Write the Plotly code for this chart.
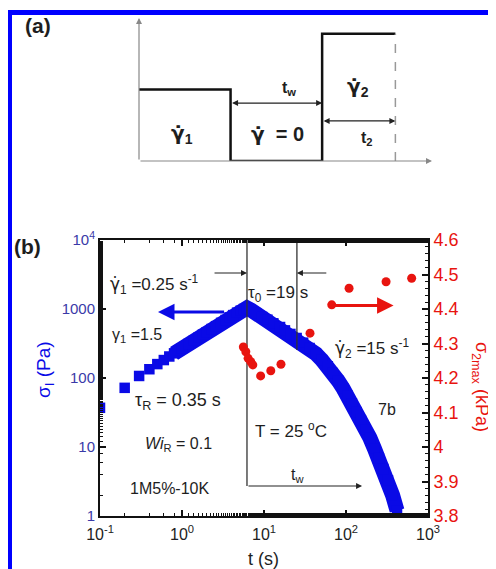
import numpy as np
import plotly.graph_objects as go

W, H = 496, 569
OFF = 8  # the page body adds an 8px margin; positions below are reference pixels
BLUE = "#0a0ae6"
RED = "#e8140f"
TICKBLUE = "#3a3aa8"
TXT = "#1e1e1e"

# ---------------- panel (b) data ----------------
t_stress = [0.1, 0.2, 0.3, 0.4, 0.5, 0.6, 0.7, 0.8, 0.9, 1.0, 1.2, 1.4, 1.6, 1.8, 2.0,
            2.3, 2.6, 3.0, 3.4, 3.8, 4.2, 4.7, 5.2, 5.7, 6.2,
            7.0, 8.0, 9.5, 11, 13, 15.7, 18, 21, 25, 30, 36, 43, 51, 60, 69, 80, 92,
            105, 118, 135, 152, 172, 196, 222, 252, 285, 325, 370, 419]
sigma_I = [37, 72, 107, 134, 159, 182, 205, 228, 249, 270, 311, 350, 388, 425, 461,
           513, 564, 630, 694, 756, 816, 885, 945, 1000, 1035,
           960, 870, 766, 700, 620, 548, 490, 435, 380, 325, 272, 225, 182, 148, 118, 92, 71,
           55, 43, 32, 24.5, 18, 13.5, 9.5, 6.9, 4.8, 3.3, 2.0, 1.2]
band_start = 7  # from here on the squares overlap into a continuous band

t_sigma2 = [5.6, 6.0, 6.4, 6.9, 7.3, 9.1, 12.1, 16.1, 36.4, 67, 109, 308, 632]
sigma_2max = [4.29, 4.276, 4.257, 4.247, 4.238, 4.206, 4.221, 4.240, 4.330, 4.412, 4.460, 4.479, 4.489]

t1 = 6.2
tau0 = 19
t_w_end = 157
y_tw_arrow = 2.72
y_tau_arrow = 3325
y_tau_line_end = 255

x_ticks = [0.1, 1, 10, 100, 1000]
x_ticktext = ["10<sup>-1</sup>", "10<sup>0</sup>", "10<sup>1</sup>", "10<sup>2</sup>", "10<sup>3</sup>"]
y_ticks = [1, 10, 100, 1000, 10000]
y_ticktext = ["1", "10", "100", "1000", "10<sup>4</sup>"]

# ---------------- panel (a) schematic ----------------
sch_t = [0, 1, 1, 2, 2, 2.8]
sch_level = [1, 1, 0, 0, 1.78, 1.78]
sch_t_end = 2.8

GDOT = '<span style="font-family:DejaVu Sans">γ̇</span>'


def pxx(x):
    return (x - OFF) / W


def pyy(y):
    return 1 - (y - OFF) / H


fig = go.Figure()

fig.add_trace(go.Scatter(x=t_stress[band_start:], y=sigma_I[band_start:], mode="lines",
                         line=dict(color=BLUE, width=15), xaxis="x", yaxis="y",
                         hoverinfo="skip", showlegend=False))
fig.add_trace(go.Scatter(x=t_stress, y=sigma_I, mode="markers",
                         marker=dict(symbol="square", size=10.5, color=BLUE),
                         xaxis="x", yaxis="y", showlegend=False))
fig.add_trace(go.Scatter(x=[t1, t1], y=[1e4, y_tw_arrow], mode="lines",
                         line=dict(color="#333", width=1.3), xaxis="x", yaxis="y",
                         showlegend=False, hoverinfo="skip"))
fig.add_trace(go.Scatter(x=[t1 + tau0, t1 + tau0], y=[1e4, y_tau_line_end], mode="lines",
                         line=dict(color="#333", width=1.3), xaxis="x", yaxis="y",
                         showlegend=False, hoverinfo="skip"))
fig.add_trace(go.Scatter(x=t_sigma2, y=sigma_2max, mode="markers",
                         marker=dict(symbol="circle", size=9, color=RED),
                         xaxis="x", yaxis="y2", showlegend=False))

fig.add_trace(go.Scatter(x=sch_t, y=sch_level, mode="lines",
                         line=dict(color="#111", width=2.5), xaxis="x3", yaxis="y3",
                         showlegend=False, hoverinfo="skip"))
fig.add_trace(go.Scatter(x=[sch_t_end, sch_t_end], y=[0, sch_level[-1]], mode="lines",
                         line=dict(color="#999", width=1.5, dash="dash"), xaxis="x3", yaxis="y3",
                         showlegend=False, hoverinfo="skip"))

ann = []
lg = np.log10

ann.append(dict(xref="x", yref="y", axref="x", ayref="y",
                x=lg(0.51), y=lg(905), ax=lg(3.4), ay=lg(905), text="",
                showarrow=True, arrowhead=2, arrowsize=1.1, arrowwidth=3, arrowcolor=BLUE))
ann.append(dict(xref="x", yref="y2", axref="x", ayref="y2",
                x=lg(380), y=4.41, ax=lg(67), ay=4.41, text="",
                showarrow=True, arrowhead=2, arrowsize=1.1, arrowwidth=3, arrowcolor=RED))
ann.append(dict(xref="x", yref="y", axref="x", ayref="y",
                x=lg(t1), y=lg(y_tau_arrow), ax=lg(2.39), ay=lg(y_tau_arrow), text="",
                showarrow=True, arrowhead=2, arrowsize=1, arrowwidth=1.2, arrowcolor="#222"))
ann.append(dict(xref="x", yref="y", axref="x", ayref="y",
                x=lg(t1 + tau0), y=lg(y_tau_arrow), ax=lg(60), ay=lg(y_tau_arrow), text="",
                showarrow=True, arrowhead=2, arrowsize=1, arrowwidth=1.2, arrowcolor="#222"))
ann.append(dict(xref="x", yref="y", axref="x", ayref="y",
                x=lg(t_w_end), y=lg(y_tw_arrow), ax=lg(t1), ay=lg(y_tw_arrow), text="",
                showarrow=True, arrowhead=2, arrowsize=1, arrowwidth=1.2, arrowcolor="#222"))

ann.append(dict(xref="x3", yref="y3", axref="x3", ayref="y3", x=0, y=2.0, ax=0, ay=0,
                text="", showarrow=True, arrowhead=2, arrowwidth=1.2, arrowcolor="#888"))
ann.append(dict(xref="x3", yref="y3", axref="x3", ayref="y3", x=3.2, y=0, ax=0, ay=0,
                text="", showarrow=True, arrowhead=2, arrowwidth=1.2, arrowcolor="#888"))
ann.append(dict(xref="x3", yref="y3", axref="x3", ayref="y3", x=2, y=0.81, ax=1, ay=0.81,
                text="", showarrow=True, arrowhead=2, arrowside="end+start", arrowwidth=1.2,
                arrowcolor="#222"))
ann.append(dict(xref="x3", yref="y3", axref="x3", ayref="y3", x=2.8, y=0.56, ax=2, ay=0.56,
                text="", showarrow=True, arrowhead=2, arrowside="end+start", arrowwidth=1.2,
                arrowcolor="#222"))


def txt(x, y, s, size=16, color=TXT, xanchor="center", yanchor="middle", angle=0, xref="paper",
        yref="paper"):
    if xref == "paper":
        x = pxx(x)
    if yref == "paper":
        y = pyy(y)
    ann.append(dict(xref=xref, yref=yref, x=x, y=y, text=s, showarrow=False,
                    font=dict(size=size, color=color), xanchor=xanchor, yanchor=yanchor,
                    textangle=angle))


txt(38, 26, "<b>(a)</b>", size=21)
txt(27, 246, "<b>(b)</b>", size=21)

txt(-0.26, 0.99, "<b>Rate or stress</b>", size=15, color="#333", angle=-90, xref="x3", yref="y3")
txt(0.47, 0.38, "<b>" + GDOT + "</b><sub><b>1</b></sub>", size=20, xref="x3", yref="y3")
txt(1.51, 0.38, "<b>" + GDOT + "  = 0</b>", size=20, xref="x3", yref="y3")
txt(2.39, 1.03, "<b>" + GDOT + "</b><sub><b>2</b></sub>", size=20, xref="x3", yref="y3")
txt(1.64, 1.02, "<b>t</b><sub><b>w</b></sub>", size=16, xref="x3", yref="y3")
txt(2.49, 0.31, "<b>t</b><sub><b>2</b></sub>", size=16, xref="x3", yref="y3")
txt(-0.12, -0.17, "<b>0</b>", size=16, xref="x3", yref="y3")
txt(1.05, -0.22, "<b>t</b><sub><b>1</b></sub>", size=16, xref="x3", yref="y3")
txt(3.2, -0.22, "<b>t</b>", size=18, xref="x3", yref="y3")

txt(108, 285, GDOT + "<sub>1</sub> =0.25 s<sup>-1</sup>", size=17, xanchor="left")
txt(110, 336, "γ<sub>1</sub> =1.5", size=16, xanchor="left")
txt(133, 401, "τ<sub>R</sub> = 0.35 s", size=18, xanchor="left")
txt(143, 444, "<i>Wi</i><sub>R</sub> = 0.1", size=16, xanchor="left")
txt(128, 488, "1M5%-10K", size=16, xanchor="left")
txt(246, 294, "τ<sub>0</sub> =19 s", size=17, xanchor="left")
txt(333, 348, GDOT + "<sub>2</sub> =15 s<sup>-1</sup>", size=17, xanchor="left")
txt(387, 409, "7b", size=16)
txt(253, 430, "T = 25 <sup>o</sup>C", size=17, xanchor="left")
txt(297, 476, "t<sub>w</sub>", size=16)

txt(263, 559, "t (s)", size=18)
txt(45, 370, "σ<sub>I</sub> (Pa)", size=19, color=BLUE, angle=-90)
txt(481, 387, "σ<sub>2max</sub> (kPa)", size=18, color=RED, angle=90)

axis_common = dict(showline=True, linecolor="#111", linewidth=2, ticks="inside",
                   tickcolor="#111", tickwidth=1.5, ticklen=6, showgrid=False, zeroline=False,
                   automargin=False)

fig.update_layout(
    width=W, height=H,
    autosize=False,
    margin=dict(l=0, r=0, t=0, b=0, pad=0, autoexpand=False),
    paper_bgcolor="white", plot_bgcolor="white",
    font=dict(family="Liberation Sans, Arial, sans-serif", color=TXT),
    showlegend=False,
    xaxis=dict(type="log", range=[-1, 3], domain=[pxx(100), pxx(428)], anchor="y",
               mirror="ticks", tickvals=x_ticks, ticktext=x_ticktext,
               tickfont=dict(size=16, color="#222"), ticklabelstandoff=3,
               minor=dict(ticks="inside", ticklen=3, tickwidth=1, tickcolor="#111", showgrid=False),
               **axis_common),
    yaxis=dict(type="log", range=[0, 4], domain=[pyy(516), pyy(240)], anchor="x",
               tickvals=y_ticks, ticktext=y_ticktext,
               tickfont=dict(size=15, color=TICKBLUE),
               minor=dict(ticks="inside", ticklen=3, tickwidth=1, tickcolor="#111", showgrid=False),
               **axis_common),
    yaxis2=dict(range=[3.8, 4.6], overlaying="y", side="right", anchor="x",
                tick0=3.8, dtick=0.1, tickfont=dict(size=18, color=RED),
                minor=dict(ticks="inside", ticklen=3, tickwidth=1, tickcolor="#111",
                           dtick=0.02, showgrid=False),
                **axis_common),
    xaxis3=dict(range=[0, 3.2], domain=[pxx(139), pxx(432)], anchor="y3", visible=False),
    yaxis3=dict(range=[0, 2.0], domain=[pyy(161), pyy(18)], anchor="x3", visible=False),
    annotations=ann,
    shapes=[
        dict(type="rect", xref="paper", yref="paper", x0=pxx(7), x1=pxx(12), y0=-0.05, y1=pyy(10),
             fillcolor="#0000ff", line=dict(width=0), layer="above"),
        dict(type="rect", xref="paper", yref="paper", x0=pxx(7), x1=1.05, y0=pyy(15), y1=pyy(10),
             fillcolor="#0000ff", line=dict(width=0), layer="above"),
    ],
)

fig.write_html("out.html")
